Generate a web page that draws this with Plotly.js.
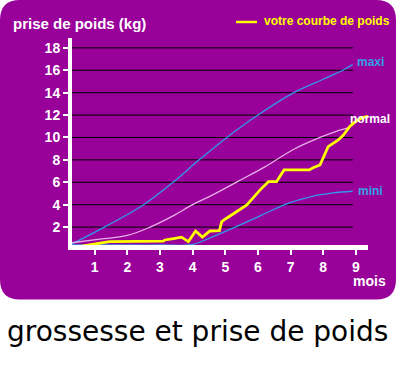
<!DOCTYPE html>
<html>
<head>
<meta charset="utf-8">
<script src="https://cdn.plot.ly/plotly-3.0.1.min.js"></script>
<style>
html,body{margin:0;padding:0;background:#fff;}
#chart{width:396px;height:380px;}
</style>
</head>
<body>
<div id="chart"></div>
<script>
// ---- data ----
var yTicks = [2, 4, 6, 8, 10, 12, 14, 16, 18];
var xTicks = [1, 2, 3, 4, 5, 6, 7, 8, 9];

var maxiMonths = [0.3, 1.3, 2.5, 3.4, 4.2, 5.05, 6.0, 7.1, 8.0, 8.6, 8.9];
var maxiKg     = [0.5, 2.0, 4.0, 6.0, 8.0, 10.0, 12.0, 14.0, 15.2, 16.0, 16.5];

var normalMonths = [0.3, 1.1, 2.0, 2.7, 3.4, 4.0, 4.6, 5.4, 6.2, 7.1, 7.9, 8.4, 8.8];
var normalKg     = [0.6, 0.9, 1.25, 2.0, 3.0, 4.0, 4.85, 6.1, 7.35, 8.95, 10.0, 10.55, 10.9];

var miniMonths = [0.3, 1.0, 2.0, 3.0, 4.0, 4.5, 5.3, 6.1, 6.9, 7.6, 8.3, 8.9];
var miniKg     = [0.4, 0.4, 0.4, 0.4, 0.45, 1.0, 2.0, 3.05, 4.1, 4.7, 5.05, 5.2];

var userMonths = [0.3, 1.15, 1.45, 3.1, 3.15, 3.46, 3.66, 3.87, 4.09, 4.3, 4.53, 4.82, 4.89, 5.04, 5.35, 5.66, 6.06, 6.32, 6.57, 6.8, 7.57, 7.69, 7.9, 8.1, 8.15, 8.46, 8.61, 8.82, 9.02, 9.23, 9.48];
var userKg     = [0.15, 0.55, 0.7, 0.75, 0.85, 1.0, 1.1, 0.7, 1.65, 1.1, 1.65, 1.68, 2.48, 2.79, 3.38, 3.97, 5.3, 6.05, 6.05, 7.1, 7.1, 7.3, 7.54, 8.88, 9.18, 9.78, 10.2, 11.0, 11.5, 11.8, 11.95];

var titleText = "prise de poids (kg)";
var legendText = "votre courbe de poids";
var xUnit = "mois";
var caption = "grossesse et prise de poids";
var curveLabels = ["maxi", "normal", "mini"];

// ---- layout helpers (pixel -> paper) ----
var ML = 72, MR = 28, MT = 38, MB = 135, W = 396, H = 380;
var PW = W - ML - MR, PH = H - MT - MB;
function px(x){ return (x - ML) / PW; }
function py(y){ return (H - MB - y) / PH; }

var purple = "#990099";
var blue = "#3399ee";
var pink = "#e8b0e8";
var yellow = "#ffff00";
var font = "Liberation Sans, Arial, sans-serif";

function roundRect(x0, y0, x1, y1, r){
  var a = px(x0), b = px(x1), top = py(y0), bot = py(y1);
  var rx = r / PW, ry = r / PH;
  return "M " + (a + rx) + "," + top +
    " L " + (b - rx) + "," + top +
    " Q " + b + "," + top + " " + b + "," + (top - ry) +
    " L " + b + "," + (bot + ry) +
    " Q " + b + "," + bot + " " + (b - rx) + "," + bot +
    " L " + (a + rx) + "," + bot +
    " Q " + a + "," + bot + " " + a + "," + (bot + ry) +
    " L " + a + "," + (top - ry) +
    " Q " + a + "," + top + " " + (a + rx) + "," + top + " Z";
}

var shapes = [{
  type: "path", xref: "paper", yref: "paper", layer: "below",
  path: roundRect(0, 0, 396, 299.5, 20),
  fillcolor: purple, line: {width: 0}
}];
yTicks.forEach(function(v){
  shapes.push({type: "line", xref: "paper", yref: "y", layer: "below",
    x0: 0, x1: px(353), y0: v, y1: v, line: {color: "#000", width: 1}});
});
shapes.push({type: "line", xref: "paper", yref: "paper",
  x0: px(236), x1: px(257), y0: py(22), y1: py(22),
  line: {color: yellow, width: 2.5}});

var traces = [
  {x: maxiMonths, y: maxiKg, mode: "lines", line: {color: blue, width: 1.3, shape: "spline"}, hoverinfo: "skip"},
  {x: normalMonths, y: normalKg, mode: "lines", line: {color: pink, width: 1.3, shape: "spline"}, hoverinfo: "skip"},
  {x: miniMonths, y: miniKg, mode: "lines", line: {color: blue, width: 1.3, shape: "spline"}, hoverinfo: "skip"},
  {x: userMonths, y: userKg, mode: "lines", line: {color: yellow, width: 2.8}, cliponaxis: false, hoverinfo: "skip"}
];

var annotations = [
  {text: titleText, xref: "paper", yref: "paper", x: px(11), y: py(24), xanchor: "left", yanchor: "middle", showarrow: false,
   font: {family: font, size: 15, color: "#fff", weight: "bold"}},
  {text: legendText, xref: "paper", yref: "paper", x: px(262), y: py(21), xanchor: "left", yanchor: "middle", showarrow: false,
   font: {family: font, size: 12, color: yellow, weight: "bold"}},
  {text: curveLabels[0], xref: "paper", yref: "paper", x: px(355), y: py(62), xanchor: "left", yanchor: "middle", showarrow: false,
   font: {family: font, size: 12, color: "#33a3e6", weight: "bold"}},
  {text: curveLabels[1], xref: "paper", yref: "paper", x: px(348), y: py(119), xanchor: "left", yanchor: "middle", showarrow: false,
   font: {family: font, size: 12, color: "#fff", weight: "bold"}},
  {text: curveLabels[2], xref: "paper", yref: "paper", x: px(356), y: py(191), xanchor: "left", yanchor: "middle", showarrow: false,
   font: {family: font, size: 12, color: "#33a3e6", weight: "bold"}},
  {text: xUnit, xref: "paper", yref: "paper", x: px(369), y: py(281), xanchor: "center", yanchor: "middle", showarrow: false,
   font: {family: font, size: 14, color: "#fff", weight: "bold"}},
  {text: caption, xref: "paper", yref: "paper", x: px(197.5), y: py(331), xanchor: "center", yanchor: "middle", showarrow: false,
   font: {family: "DejaVu Sans", size: 28, color: "#000"}}
];

var layout = {
  width: W, height: H,
  margin: {l: ML, r: MR, t: MT, b: MB, pad: 0},
  paper_bgcolor: "#ffffff",
  plot_bgcolor: "rgba(0,0,0,0)",
  showlegend: false,
  xaxis: {range: [0.306, 9.37], tickvals: xTicks, showgrid: false, zeroline: false,
    showline: true, linecolor: "#fff", linewidth: 5, layer: "below traces",
    ticks: "outside", ticklen: 5, tickwidth: 2, tickcolor: "#fff",
    tickfont: {family: font, size: 14, color: "#fff", weight: "bold"}, fixedrange: true},
  yaxis: {range: [0.4, 18.88], tickvals: yTicks, showgrid: false, zeroline: false,
    showline: true, linecolor: "#fff", linewidth: 4, layer: "below traces",
    ticks: "outside", ticklen: 5, tickwidth: 2, tickcolor: "#fff",
    tickfont: {family: font, size: 14, color: "#fff", weight: "bold"}, fixedrange: true},
  shapes: shapes,
  annotations: annotations
};

Plotly.newPlot("chart", traces, layout, {displayModeBar: false, staticPlot: true});
</script>
</body>
</html>
